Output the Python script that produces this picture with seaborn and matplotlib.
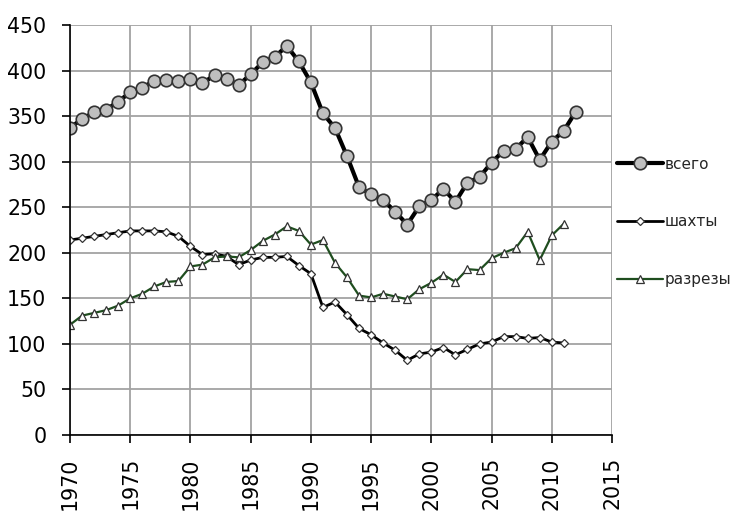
import matplotlib
matplotlib.use("Agg")
import matplotlib.pyplot as plt
import seaborn as sns
import numpy as np

# values
years_total = list(range(1970, 2013))
years_parts = list(range(1970, 2012))

vsego = [337, 347, 354, 357, 366, 376, 381, 389, 390, 389, 391, 386, 395, 391, 384,
         396, 409, 415, 427, 410, 387, 353, 337, 306, 272, 264, 258, 245, 231,
         251, 258, 270, 256, 277, 283, 299, 312, 314, 327, 302, 322, 334, 355]

shakhty = [214, 216, 218, 220, 222, 224, 224, 224, 223, 218, 207, 198, 199, 196, 187,
           192, 195, 195, 196, 186, 177, 140, 146, 132, 117, 110, 101, 93, 82,
           89, 91, 96, 88, 94, 100, 102, 108, 108, 106, 107, 102, 101]

razrezy = [121, 131, 134, 137, 142, 150, 155, 163, 168, 169, 185, 187, 195, 196, 195,
           203, 213, 220, 229, 224, 209, 214, 189, 173, 153, 151, 155, 152, 149,
           160, 167, 176, 168, 182, 181, 194, 200, 205, 223, 192, 219, 232]

labels = ["всего", "шахты", "разрезы"]

sns.set_style("white")
plt.rcParams['font.family'] = ['DejaVu Sans']

fig = plt.figure(figsize=(7.35, 5.12), dpi=100)
ax = fig.add_axes([70 / 735, 77 / 512, 542 / 735, 410 / 512])

sns.lineplot(x=years_total, y=vsego, ax=ax, color="black", linewidth=3,
             marker="o", markersize=9, markerfacecolor="#bfbfbf",
             markeredgecolor="#333333", markeredgewidth=1.2, label=labels[0])
sns.lineplot(x=years_parts, y=shakhty, ax=ax, color="black", linewidth=2,
             marker="D", markersize=4.5, markerfacecolor="white",
             markeredgecolor="#333333", markeredgewidth=0.9, label=labels[1])
sns.lineplot(x=years_parts, y=razrezy, ax=ax, color="#1f4e1f", linewidth=1.6,
             marker="^", markersize=6, markerfacecolor="white",
             markeredgecolor="#333333", markeredgewidth=0.9, label=labels[2])

ax.set_xlim(1970, 2015)
ax.set_ylim(0, 450)
ax.set_xticks(np.arange(1970, 2016, 5))
ax.set_yticks(np.arange(0, 451, 50))
ax.grid(True, color="#a3a3a3", linewidth=1.3)
ax.set_axisbelow(True)

for s in ["top", "right"]:
    ax.spines[s].set_visible(False)
for s in ["left", "bottom"]:
    ax.spines[s].set_color("black")
    ax.spines[s].set_linewidth(1.2)

ax.tick_params(axis="x", direction="out", length=6, width=1.2, color="black",
               labelsize=14.8, labelcolor="black", labelrotation=90, pad=10,
               bottom=True)
ax.tick_params(axis="y", direction="out", length=6, width=1.2, color="black",
               labelsize=14.8, labelcolor="black", pad=11, left=True)
ax.set_xlabel("")
ax.set_ylabel("")

ax.legend(loc="center left", bbox_to_anchor=(1.01, 0.52), frameon=False,
          fontsize=11, handlelength=3, handletextpad=0.1, labelspacing=2.8,
          borderaxespad=0, borderpad=0)

fig.savefig("out.png", dpi=100)
